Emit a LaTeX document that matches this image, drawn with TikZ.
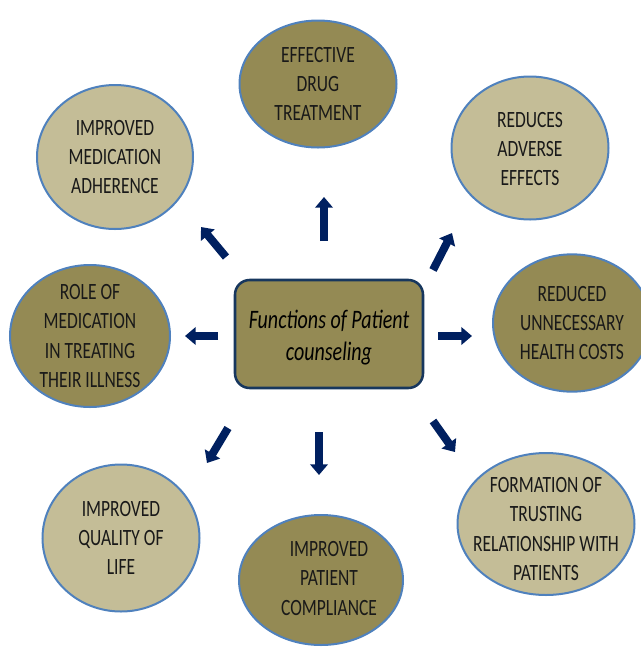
\documentclass[tikz,border=0pt]{standalone}
\usepackage{fontspec}
\setmainfont{Carlito}
\newfontfamily\bubblefont[FakeStretch=0.75]{Carlito}
\usetikzlibrary{shapes.geometric,arrows.meta}

\definecolor{oliveDark}{RGB}{148,138,84}
\definecolor{oliveLight}{RGB}{196,189,151}
\definecolor{rimBlue}{RGB}{79,129,189}
\definecolor{boxNavy}{RGB}{23,55,94}
\definecolor{arrowNavy}{RGB}{0,32,96}

\tikzset{every picture/.style={line width=0.75pt}}
\tikzset{
  bubble/.style={ellipse, draw=rimBlue, line width=1.5pt, inner sep=-25pt, align=center,
    font=\bubblefont\fontsize{17.5}{22}\selectfont, text=black!90},
  darkbubble/.style={bubble, fill=oliveDark},
  lightbubble/.style={bubble, fill=oliveLight},
  fatarrow/.style={draw=arrowNavy, line width=6pt, -{Triangle[width=13pt,length=8pt]}},
}

\begin{document}
\begin{tikzpicture}[x=0.75pt,y=0.75pt,yscale=-1,xscale=1]
        \path[use as bounding box] (0,0) rectangle (640,647);

        % Centre box
        \draw (329,334) node [draw=boxNavy, line width=1.9pt, fill=oliveDark, rounded corners=11pt,
            minimum width=141pt, minimum height=81pt,
            font=\bubblefont\itshape\fontsize{20}{24}\selectfont] (counsel)
            {\raisebox{-3pt}[\height][\depth]{\begin{tabular}{@{}c@{}}Functions of Patient\\counseling\end{tabular}}};

        % Ellipses, dark ones
        \draw (318,84) node [darkbubble, minimum width=117.75pt, minimum height=95.25pt] (drug) {EFFECTIVE\\DRUG\\TREATMENT};
        \draw (90,336) node [darkbubble, minimum width=120pt, minimum height=106.5pt] (illness) {ROLE OF\\MEDICATION\\IN TREATING\\THEIR ILLNESS};
        \draw (572,323) node [darkbubble, minimum width=118.5pt, minimum height=103pt] (costs) {REDUCED\\UNNECESSARY\\HEALTH COSTS};
        \draw (321,580) node [darkbubble, minimum width=123pt, minimum height=97.5pt] (compliance)
            {\hspace*{12pt}\begin{tabular}{@{}c@{}}IMPROVED\\PATIENT\\COMPLIANCE\end{tabular}};

        % Ellipses, light ones
        \draw (115,157) node [lightbubble, minimum width=117pt, minimum height=108pt] (adherence) {IMPROVED\\MEDICATION\\ADHERENCE};
        \draw (530,148) node [lightbubble, minimum width=117.75pt, minimum height=107.25pt] (adverse)
            {\raisebox{-2pt}[\height][\depth]{\begin{tabular}{@{}c@{}}REDUCES\\ADVERSE\\EFFECTS\end{tabular}}};
        \draw (121,538) node [lightbubble, minimum width=117.75pt, minimum height=110.25pt] (quality) {IMPROVED\\QUALITY OF\\LIFE};
        \draw (546,524) node [lightbubble, minimum width=132.75pt, minimum height=106.5pt] (trust)
            {\raisebox{-5pt}[\height][\depth]{\begin{tabular}{@{}c@{}}FORMATION OF\\TRUSTING\\RELATIONSHIP WITH\\PATIENTS\end{tabular}}};

        % Block arrows around the box
        \foreach \name/\tx/\ty/\hx/\hy in {up/324/241/324/197, upleft/226/257/201/227, upright/433/270/452/233,
            left/218/336/185/336, right/438/336/472/336, downleft/228/428/207/463,
            down/319/432/319/475, downright/433/421/455/452} {
          \coordinate (\name-tail) at (\tx,\ty);
          \coordinate (\name-tip) at (\hx,\hy);
          \draw[fatarrow] (\name-tail) -- (\name-tip);
        }
\end{tikzpicture}
\end{document}
